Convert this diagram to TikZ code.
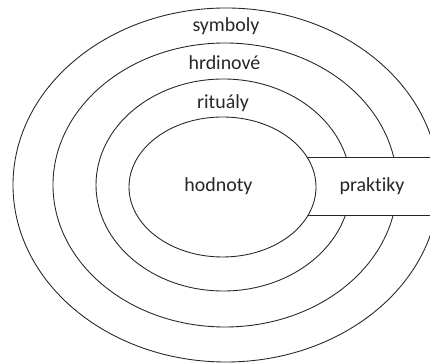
\documentclass[tikz,border=0pt]{standalone}
\usepackage{fontspec}
\setmainfont{Carlito}[Ligatures={NoCommon}]
\usepackage{tikz}
\tikzset{
  ring/.style={draw=black!85, line width=0.75pt},
  core/.style={ring, fill=white},
  bandfill/.style={fill=white, draw=none},
  bandedge/.style={draw=black!85, line width=0.75pt},
  ringlabel/.style={anchor=base, inner sep=0pt, text=black!85, font=\fontsize{17}{20}\selectfont},
}
\begin{document}
\begin{tikzpicture}
\useasboundingbox (0,0) rectangle (12.900,10.890);
\clip (0,0) rectangle (12.900,10.890);
\draw[ring] (6.780,5.340) ellipse (6.390 and 5.310);
\draw[ring] (6.750,5.340) ellipse (5.160 and 4.260);
\draw[ring] (6.700,5.340) ellipse (3.820 and 3.180);
\fill[bandfill] (9.000,4.440) rectangle (13.200,6.180);
\draw[bandedge] (9.000,6.180) -- (13.200,6.180);
\draw[bandedge] (9.000,4.440) -- (13.200,4.440);
\draw[core] (6.675,5.280) ellipse (2.805 and 2.100);
\node[ringlabel] (symboly) at (6.780,9.930) {symboly};
\node[ringlabel] (hrdinove) at (6.735,8.790) {hrdinové};
\node[ringlabel] (ritualy) at (6.690,7.635) {rituály};
\node[ringlabel] (hodnoty) at (6.555,5.139) {hodnoty};
\node[ringlabel] (praktiky) at (11.160,5.130) {praktiky};
\end{tikzpicture}
\end{document}
